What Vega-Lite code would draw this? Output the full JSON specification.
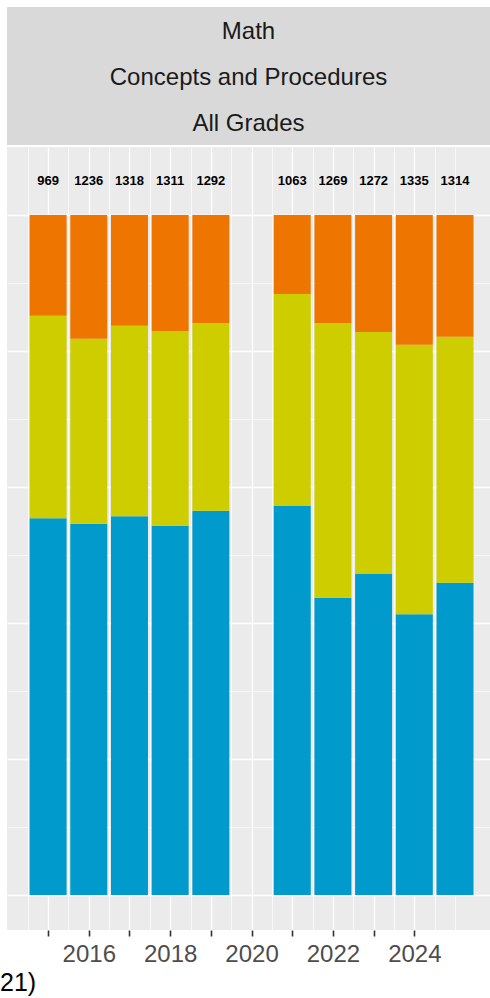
{
  "$schema": "https://vega.github.io/schema/vega-lite/v6.json",
  "padding": {"left": 0, "top": 7, "right": 0, "bottom": 0},
  "autosize": {"type": "pad"},
  "background": "white",
  "config": {"font": "Liberation Sans", "view": {"stroke": null}, "concat": {"spacing": 2}},
  "title": {"text": "21)", "orient": "bottom", "anchor": "start", "dx": -7, "fontSize": 25, "fontWeight": "normal", "color": "black", "offset": 5, "frame": "group"},
  "datasets": {
    "levels": [
      {"year": 2015, "level": "Below Standard", "pct": 0.554},
      {"year": 2015, "level": "At/Near Standard", "pct": 0.298},
      {"year": 2015, "level": "Above Standard", "pct": 0.148},
      {"year": 2016, "level": "Below Standard", "pct": 0.546},
      {"year": 2016, "level": "At/Near Standard", "pct": 0.272},
      {"year": 2016, "level": "Above Standard", "pct": 0.182},
      {"year": 2017, "level": "Below Standard", "pct": 0.557},
      {"year": 2017, "level": "At/Near Standard", "pct": 0.280},
      {"year": 2017, "level": "Above Standard", "pct": 0.163},
      {"year": 2018, "level": "Below Standard", "pct": 0.543},
      {"year": 2018, "level": "At/Near Standard", "pct": 0.286},
      {"year": 2018, "level": "Above Standard", "pct": 0.171},
      {"year": 2019, "level": "Below Standard", "pct": 0.565},
      {"year": 2019, "level": "At/Near Standard", "pct": 0.276},
      {"year": 2019, "level": "Above Standard", "pct": 0.159},
      {"year": 2021, "level": "Below Standard", "pct": 0.572},
      {"year": 2021, "level": "At/Near Standard", "pct": 0.312},
      {"year": 2021, "level": "Above Standard", "pct": 0.116},
      {"year": 2022, "level": "Below Standard", "pct": 0.437},
      {"year": 2022, "level": "At/Near Standard", "pct": 0.404},
      {"year": 2022, "level": "Above Standard", "pct": 0.159},
      {"year": 2023, "level": "Below Standard", "pct": 0.472},
      {"year": 2023, "level": "At/Near Standard", "pct": 0.356},
      {"year": 2023, "level": "Above Standard", "pct": 0.172},
      {"year": 2024, "level": "Below Standard", "pct": 0.413},
      {"year": 2024, "level": "At/Near Standard", "pct": 0.396},
      {"year": 2024, "level": "Above Standard", "pct": 0.191},
      {"year": 2025, "level": "Below Standard", "pct": 0.459},
      {"year": 2025, "level": "At/Near Standard", "pct": 0.362},
      {"year": 2025, "level": "Above Standard", "pct": 0.179}
    ],
    "counts": [
      {"year": 2015, "n": 969},
      {"year": 2016, "n": 1236},
      {"year": 2017, "n": 1318},
      {"year": 2018, "n": 1311},
      {"year": 2019, "n": 1292},
      {"year": 2021, "n": 1063},
      {"year": 2022, "n": 1269},
      {"year": 2023, "n": 1272},
      {"year": 2024, "n": 1335},
      {"year": 2025, "n": 1314}
    ]
  },
  "vconcat": [
    {
      "width": 483,
      "height": 138,
      "view": {"fill": "#D9D9D9", "stroke": null},
      "data": {"values": [
        {"line": 1, "label": "Math"},
        {"line": 2, "label": "Concepts and Procedures"},
        {"line": 3, "label": "All Grades"}
      ]},
      "mark": {"type": "text", "fontSize": 24, "color": "#1A1A1A", "baseline": "middle", "dy": 2},
      "encoding": {
        "y": {"field": "line", "type": "ordinal", "scale": {"type": "point", "padding": 0.5}, "axis": null},
        "text": {"field": "label"}
      }
    },
    {
      "width": 483,
      "height": 783,
      "view": {"fill": "#EBEBEB", "stroke": null},
      "resolve": {"axis": {"x": "independent"}},
      "layer": [
        {
          "data": {"name": "levels"},
          "mark": {"type": "bar", "width": 37},
          "encoding": {
            "x": {
              "field": "year", "type": "quantitative",
              "scale": {"domain": [2013.99, 2025.86], "nice": false, "zero": false, "padding": 0},
              "axis": {
                "orient": "bottom",
                "title": null,
                "values": [2015, 2016, 2017, 2018, 2019, 2020, 2021, 2022, 2023, 2024],
                "labelExpr": "(datum.value % 2 == 0) ? toString(datum.value) : ''",
                "labelOverlap": false,
                "labelFlush": false,
                "labelFontSize": 24,
                "labelColor": "#4D4D4D",
                "labelPadding": 6,
                "domain": false,
                "grid": true,
                "gridColor": "white",
                "gridWidth": 1.3,
                "ticks": true,
                "tickColor": "#333333",
                "tickWidth": 1.6,
                "tickSize": 6
              }
            },
            "y": {
              "field": "pct", "type": "quantitative", "stack": "normalize",
              "scale": {"domain": [-0.0515, 1.1], "nice": false, "zero": false},
              "axis": {
                "title": null,
                "values": [0, 0.1, 0.2, 0.3, 0.4, 0.5, 0.6, 0.7, 0.8, 0.9, 1.0],
                "labels": false,
                "ticks": false,
                "domain": false,
                "grid": true,
                "gridColor": "white",
                "gridWidth": {"condition": {"test": "round(datum.value * 10) % 2 == 0", "value": 1.3}, "value": 0.6}
              }
            },
            "color": {
              "field": "level", "type": "nominal",
              "sort": ["Below Standard", "At/Near Standard", "Above Standard"],
              "scale": {"domain": ["Below Standard", "At/Near Standard", "Above Standard"], "range": ["#009ACD", "#CDCD00", "#EE7600"]},
              "legend": null
            }
          }
        },
        {
          "data": {"name": "counts"},
          "mark": {"type": "text", "fontSize": 13, "fontWeight": "bold", "color": "black", "baseline": "middle"},
          "encoding": {
            "x": {
              "field": "year", "type": "quantitative",
              "axis": {
                "orient": "bottom",
                "title": null,
                "values": [2014.5, 2015.5, 2016.5, 2017.5, 2018.5, 2019.5, 2020.5, 2021.5, 2022.5, 2023.5, 2024.5, 2025],
                "labels": false,
                "ticks": false,
                "domain": false,
                "grid": true,
                "gridColor": "white",
                "gridWidth": 0.7
              }
            },
            "y": {"datum": 1.05},
            "text": {"field": "n"}
          }
        }
      ]
    }
  ]
}
